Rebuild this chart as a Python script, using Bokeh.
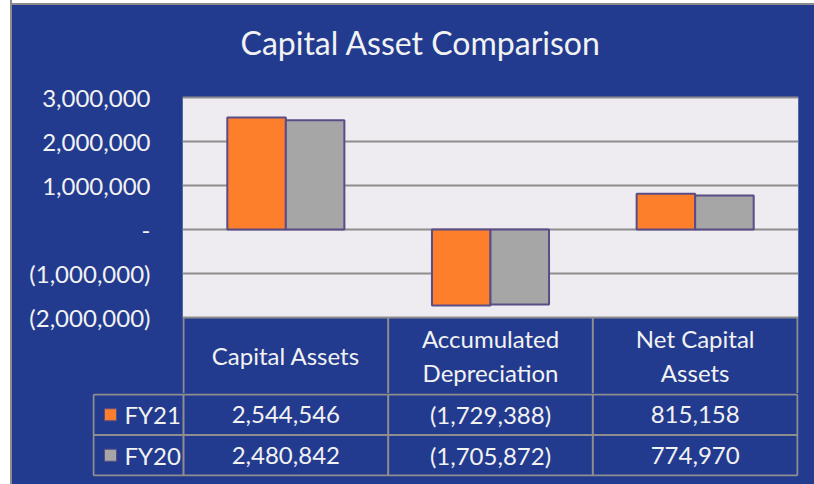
from bokeh.plotting import figure
from bokeh.layouts import column, row
from bokeh.models import Range1d, FixedTicker, Spacer, Title
from bokeh.core.properties import value
from bokeh.embed import file_html
from bokeh.resources import INLINE

# ---------------- data ----------------
title_text = "Capital Asset Comparison"
categories = ["Capital Assets", "Accumulated Depreciation", "Net Capital Assets"]
header_labels = ["Capital Assets", "Accumulated\nDepreciation", "Net Capital\nAssets"]
series_names = ["FY21", "FY20"]
fy21 = [2544546, -1729388, 815158]
fy20 = [2480842, -1705872, 774970]
y_ticks = [-2000000, -1000000, 0, 1000000, 2000000, 3000000]
y_tick_labels = ["(2,000,000)", "(1,000,000)", "-", "1,000,000", "2,000,000", "3,000,000"]


def fmt(v):
    return f"({abs(v):,})" if v < 0 else f"{v:,}"


# ---------------- style ----------------
BLUE = "#223B8F"
LIGHT = "#EEEBF1"
GRID = "#8E8E8E"
ORANGE = "#FD7F2C"
GRAYBAR = "#A6A6A6"
OUTLINE = "#5A4C86"
TXT = "#F2F2F2"
FRAME_GRAY = "#8C8C8C"
FONT = "Lato"
FS = "24px"

W = 802
col_px = 204.67
pad_x = 1 / col_px
n = len(categories)

# top figure geometry (pixels)
top_h = 388
mb_top = 90
frame_h = top_h - mb_top
px_per_unit = 220 / (y_ticks[-1] - y_ticks[0])
y_end = y_ticks[-1] + 2 / px_per_unit
y_start = y_end - frame_h / px_per_unit
header_center = y_ticks[0] - 38 / px_per_unit

p = figure(width=W, height=top_h,
           x_range=Range1d(-pad_x, n + pad_x),
           y_range=Range1d(y_start, y_end),
           output_backend="svg", toolbar_location=None,
           x_axis_location=None,
           min_border_left=170, min_border_right=16,
           min_border_top=mb_top, min_border_bottom=0,
           background_fill_color=BLUE, border_fill_color=BLUE,
           outline_line_color=None, frame_align=False)

p.title.text = title_text
p.title.text_font = FONT
p.title.text_font_size = "32px"
p.title.text_font_style = "normal"
p.title.text_color = TXT
p.title.align = "left"
p.title.offset = 58
p.title.standoff = 0
# invisible spacer between the title and the plot area
p.add_layout(Title(text=" ", text_font_size="1px", standoff=31,
                   text_color=BLUE), "above")

# plot area background
p.quad(left=-pad_x, right=n + pad_x, bottom=y_ticks[0], top=y_ticks[-1],
       fill_color=LIGHT, line_color=None, level="image")

p.xgrid.visible = False
p.ygrid.ticker = FixedTicker(ticks=y_ticks)
p.ygrid.grid_line_color = GRID
p.ygrid.grid_line_width = 2

ax = p.yaxis[0]
ax.ticker = FixedTicker(ticks=y_ticks)
ax.major_label_overrides = dict(zip(y_ticks, y_tick_labels))
ax.axis_line_color = None
ax.major_tick_line_color = None
ax.minor_tick_line_color = None
ax.major_label_text_font = FONT
ax.major_label_text_font_size = FS
ax.major_label_text_color = TXT
ax.major_label_standoff = 26

idx = list(range(n))
off = 0.143
bw = 0.286
p.vbar(x=[i + 0.5 - off for i in idx], top=fy21, bottom=0, width=bw,
       fill_color=ORANGE, line_color=OUTLINE, line_width=2)
p.vbar(x=[i + 0.5 + off for i in idx], top=fy20, bottom=0, width=bw,
       fill_color=GRAYBAR, line_color=OUTLINE, line_width=2)

# header row of data table
p.segment(x0=list(range(n + 1)), x1=list(range(n + 1)),
          y0=[y_ticks[0]] * (n + 1), y1=[y_start] * (n + 1),
          line_color=GRID, line_width=2)
p.text(x=[i + 0.5 for i in idx], y=[header_center] * n, text=header_labels,
       text_align="center", text_baseline="middle", text_color=TXT,
       text_font=value(FONT), text_font_size=FS, text_line_height=1.15)

# ---------------- bottom figure (table rows) ----------------
lw = 90 / col_px
bot_h = 91
frame_bh = 83
pad_y = 1 / ((frame_bh - 2) / 2)
q = figure(width=W, height=bot_h,
           x_range=Range1d(-lw - pad_x, n + pad_x),
           y_range=Range1d(-pad_y, 2 + pad_y),
           output_backend="svg", toolbar_location=None,
           x_axis_location=None, y_axis_location=None,
           min_border_left=80, min_border_right=16,
           min_border_top=0, min_border_bottom=bot_h - frame_bh,
           background_fill_color=BLUE, border_fill_color=BLUE,
           outline_line_color=None, frame_align=False)
q.xgrid.visible = False
q.ygrid.visible = False

rows = [0, 1, 2]
q.segment(x0=[-lw] * 3, x1=[n] * 3, y0=rows, y1=rows, line_color=GRID, line_width=2)
vx = [-lw] + list(range(n + 1))
q.segment(x0=vx, x1=vx, y0=[0] * len(vx), y1=[2] * len(vx), line_color=GRID, line_width=2)

series = [fy21, fy20]
colors = [ORANGE, GRAYBAR]
row_y = [1.5, 0.5]
for vals, yy, name, c in zip(series, row_y, series_names, colors):
    q.text(x=[i + 0.5 for i in idx], y=[yy] * n, text=[fmt(v) for v in vals],
           text_align="center", text_baseline="middle", text_color=TXT,
           text_font=value(FONT), text_font_size=FS)
    q.scatter(x=[-lw + 17 / col_px], y=[yy], marker="square", size=12,
              fill_color=c, line_color=OUTLINE, line_width=1)
    q.text(x=[-lw + 31 / col_px], y=[yy], text=[name],
           text_align="left", text_baseline="middle", text_color=TXT,
           text_font=value(FONT), text_font_size=FS)

chart = column(p, q, spacing=0, styles={"background-color": BLUE})
left_pad = Spacer(width=12, height=484,
                  styles={"background": f"linear-gradient(to right, #ffffff 10px, {FRAME_GRAY} 10px)"})
top_pad = Spacer(width=W, height=5,
                 styles={"background": f"linear-gradient(to bottom, #ffffff 3px, {FRAME_GRAY} 3px)"})
layout = row(left_pad, column(top_pad, chart, spacing=0), spacing=0)
open("out.html", "w").write(file_html(layout, INLINE))
